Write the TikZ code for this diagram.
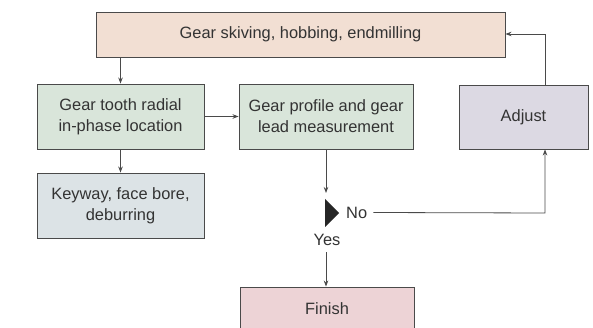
\documentclass[tikz,border=0pt]{standalone}
\usepackage{fontspec}
\setmainfont{Liberation Sans}
\usetikzlibrary{arrows.meta,calc}
\definecolor{txt}{HTML}{333333}
\definecolor{ln}{HTML}{4A4A4A}
\definecolor{cTop}{HTML}{F2DFD3}
\definecolor{cGreen}{HTML}{D9E5DA}
\definecolor{cKey}{HTML}{DCE3E6}
\definecolor{cAdj}{HTML}{DCD9E3}
\definecolor{cFin}{HTML}{EDD3D6}
\tikzset{
  box/.style={draw=ln, line width=0.9pt, text=txt, align=center, inner sep=0pt,
    font=\fontsize{16.4}{21}\selectfont},
  arr/.style={draw=ln, line width=0.8pt, -{Stealth[length=6pt,width=4.5pt]}},
  lbl/.style={text=txt, inner sep=0pt, font=\fontsize{16.4}{19}\selectfont},
}
\begin{document}
\begin{tikzpicture}[x=1pt,y=-1pt]
\useasboundingbox[fill=white] (0,0) rectangle (593,328);
\clip (0,0) rectangle (593,328);
\node[box, fill=cTop, minimum width=409pt, minimum height=45pt] (top) at (300.5,34.5) {Gear skiving, hobbing, endmilling};
\node[box, fill=cGreen, minimum width=167pt, minimum height=65pt] (A) at (120.5,116.5) {Gear tooth radial\\in-phase location};
\node[box, fill=cGreen, minimum width=174pt, minimum height=65pt] (B) at (326,116.5) {Gear profile and gear\\lead measurement};
\node[box, fill=cAdj, minimum width=129pt, minimum height=64pt] (adj) at (523.5,117) {Adjust};
\node[box, fill=cKey, minimum width=167pt, minimum height=65pt] (key) at (120.5,205.5) {Keyway, face bore,\\deburring};
\node[box, fill=cFin, minimum width=174pt, minimum height=44pt] (fin) at (327,309) {Finish};
% decision marker
\coordinate (tri) at (325,213);
\fill[black!85] (tri) ++(0,-14) -- ++(14,14) -- ++(-14,14) -- cycle;
\node[lbl, anchor=west] (no) at (346,212.5) {No};
\node[lbl] (yes) at (327,240) {Yes};
\coordinate (din) at (B.south |- 0,193);
\coordinate (yout) at (B.south |- 0,252);
\coordinate (noR) at (545,213);
\coordinate (topR) at (545,34);
% connectors
\draw[arr] (A.north |- top.south) -- (A.north);
\draw[arr] (A.south) -- (key.north);
\draw[arr] (A.east) -- (B.west);
\draw[arr] (B.south) -- (din);
\draw[arr] (yout) -- (fin.north -| yout);
\draw[arr] ($(no.east)+(6,0)$) -- (noR) -- (adj.south -| noR);
\draw[arr] (adj.north -| topR) -- (topR) -- (top.east |- topR);
\end{tikzpicture}
\end{document}
